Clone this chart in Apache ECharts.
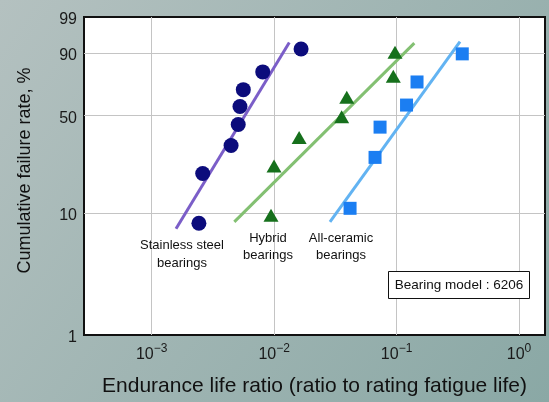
<!DOCTYPE html>
<html><head><meta charset="utf-8">
<script src="https://cdn.jsdelivr.net/npm/echarts@6/dist/echarts.min.js"></script>
<style>html,body{margin:0;padding:0;}#c{width:549px;height:402px;}</style>
</head><body><div id="c"></div>
<script>
// ---- data ----
const xTicks = [0.001, 0.01, 0.1, 1];
const yTicks = [1, 10, 50, 90, 99];
const yGridTicks = [10, 50, 90];
const xRange = [0.00028, 1.63];
const yRange = [1, 99];

const stainlessX = [0.00243, 0.00261, 0.00445, 0.00509, 0.00526, 0.00560, 0.00807, 0.0166];
const stainlessF = [8.3, 20.2, 32.1, 44.0, 56.0, 67.9, 79.8, 91.7];
const hybridX = [0.00943, 0.00998, 0.0160, 0.0356, 0.0392, 0.0940, 0.0971];
const hybridF = [9.6, 23.0, 36.4, 49.0, 62.5, 77.0, 90.3];
const ceramicX = [0.0417, 0.0667, 0.0733, 0.1206, 0.1469, 0.344];
const ceramicF = [10.9, 26.5, 42.4, 57.0, 73.2, 89.6];

const stainlessFitX = [0.00158, 0.0133];
const stainlessFitF = [7.5, 94.0];
const hybridFitX = [0.00473, 0.1396];
const hybridFitF = [8.5, 93.8];
const ceramicFitX = [0.02858, 0.3296];
const ceramicFitF = [8.5, 94.3];

const labelTexts = ['Stainless steel\nbearings', 'Hybrid\nbearings', 'All-ceramic\nbearings'];
const noteText = 'Bearing model : 6206';

// ---- transforms ----
const W = F => Math.log(-Math.log(1 - F / 100));
const L = x => Math.log10(x);
const pts = (xs, fs) => xs.map((x, i) => [L(x), W(fs[i])]);

const chart = echarts.init(document.getElementById('c'));
const FONT = "'Liberation Sans', Arial, sans-serif";

chart.setOption({
  backgroundColor: {
    type: 'linear', x: 0, y: 0, x2: 1, y2: 1,
    colorStops: [{offset: 0, color: '#b4c1c0'}, {offset: 1, color: '#8aa8a5'}]
  },
  animation: false,
  grid: {
    left: 84, top: 17, right: 4, bottom: 65,
    show: true, backgroundColor: '#ffffff', borderColor: '#111111', borderWidth: 2
  },
  xAxis: {
    type: 'value', min: L(xRange[0]), max: L(xRange[1]),
    axisLine: {show: false},
    axisTick: {show: false, customValues: xTicks.map(L)},
    splitLine: {show: true, lineStyle: {color: '#c4c4c4', width: 1}},
    axisLabel: {
      customValues: xTicks.map(L), margin: 8,
      formatter: v => '{b|10}{s|' + (Math.round(v) < 0 ? '\u2212' + (-Math.round(v)) : Math.round(v)) + '}',
      rich: {
        b: {fontSize: 16, fontFamily: FONT, color: '#1a1a1a', lineHeight: 20, verticalAlign: 'bottom'},
        s: {fontSize: 12, fontFamily: FONT, color: '#1a1a1a', verticalAlign: 'top', lineHeight: 14}
      }
    },
    name: 'Endurance life ratio (ratio to rating fatigue life)',
    nameLocation: 'middle', nameGap: 41,
    nameTextStyle: {fontSize: 21, fontFamily: FONT, color: '#111111'}
  },
  yAxis: {
    type: 'value', min: W(yRange[0]), max: W(yRange[1]),
    axisLine: {show: false},
    axisTick: {show: false, customValues: yGridTicks.map(W)},
    splitLine: {show: true, lineStyle: {color: '#c4c4c4', width: 1}},
    axisLabel: {
      customValues: yTicks.map(W), margin: 7,
      formatter: v => String(Math.round(100 * (1 - Math.exp(-Math.exp(v))))),
      fontSize: 16, fontFamily: FONT, color: '#1a1a1a', verticalAlign: 'top', lineHeight: 6
    },
    name: 'Cumulative failure rate, %',
    nameLocation: 'middle', nameGap: 50,
    nameTextStyle: {fontSize: 18, fontFamily: FONT, color: '#111111', padding: [0, 0, 0, 11]}
  },
  series: [
    {type: 'line', data: pts(stainlessFitX, stainlessFitF), symbol: 'none', lineStyle: {color: '#7b5ec8', width: 3}, z: 2},
    {type: 'line', data: pts(hybridFitX, hybridFitF), symbol: 'none', lineStyle: {color: '#83c072', width: 3}, z: 2},
    {type: 'line', data: pts(ceramicFitX, ceramicFitF), symbol: 'none', lineStyle: {color: '#62b3f2', width: 3}, z: 2},
    {type: 'scatter', data: pts(stainlessX, stainlessF), symbol: 'circle', symbolSize: 15, itemStyle: {color: '#0c0c7c', opacity: 1}, z: 3},
    {type: 'scatter', data: pts(hybridX, hybridF), symbol: 'triangle', symbolSize: [15, 13], itemStyle: {color: '#16701c', opacity: 1}, z: 3},
    {type: 'scatter', data: pts(ceramicX, ceramicF), symbol: 'rect', symbolSize: 13, itemStyle: {color: '#1b7ef2', opacity: 1}, z: 3}
  ],
  graphic: [
    {type: 'text', x: 182, y: 254, style: {text: labelTexts[0], align: 'center', verticalAlign: 'middle', fontSize: 13, fontFamily: FONT, fill: '#111', lineHeight: 18}, z: 10},
    {type: 'text', x: 268, y: 247, style: {text: labelTexts[1], align: 'center', verticalAlign: 'middle', fontSize: 13, fontFamily: FONT, fill: '#111', lineHeight: 17}, z: 10},
    {type: 'text', x: 341, y: 247, style: {text: labelTexts[2], align: 'center', verticalAlign: 'middle', fontSize: 13, fontFamily: FONT, fill: '#111', lineHeight: 17}, z: 10},
    {type: 'rect', shape: {x: 388.5, y: 271.5, width: 141, height: 27}, style: {fill: '#fff', stroke: '#111', lineWidth: 1}, z: 10},
    {type: 'text', x: 459, y: 285, style: {text: noteText, align: 'center', verticalAlign: 'middle', fontSize: 13.5, fontFamily: FONT, fill: '#111'}, z: 11}
  ]
});
</script></body></html>
